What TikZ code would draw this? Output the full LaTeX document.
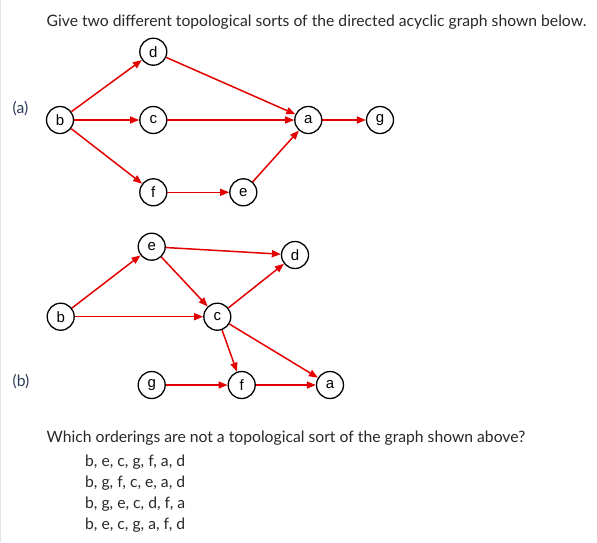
\documentclass[tikz,border=0pt]{standalone}
\usepackage{fontspec}
\setmainfont{Lato}
\newfontfamily\nodefont{Liberation Sans}
\usetikzlibrary{arrows.meta}
\definecolor{edgered}{RGB}{228,0,0}
\definecolor{txt}{RGB}{40,40,40}
\definecolor{lbl}{RGB}{45,60,90}
\tikzset{
  vtx/.style={circle,draw=black,line width=1.3pt,fill=white,minimum size=27pt,inner sep=0pt,font=\nodefont\fontsize{15}{15}\selectfont},
  edge/.style={draw=edgered,line width=1.5pt,-{Triangle[length=9pt,width=7pt]}},
  txtnode/.style={anchor=base west,inner sep=0pt,text=txt,font=\fontsize{15.7}{17}\selectfont},
  plabel/.style={anchor=base west,inner sep=0pt,text=lbl,font=\fontsize{15.7}{17}\selectfont}
}
\begin{document}
\begin{tikzpicture}[x=1pt,y=-1pt]
\useasboundingbox (0,0) rectangle (597,542);
\fill[white] (0,0) rectangle (597,542);
\draw[color=black!10,line width=1pt] (0.5,0) -- (0.5,542);
% title
\node[txtnode] (title) at (46.5,26) {Give two different topological sorts of the directed acyclic graph shown below.};
% (a)
\node[plabel] (la) at (12.5,113.3) {(a)};
\node[vtx] (ab) at (60,120) {b};
\node[vtx] (ad) at (153.3,51.7) {d};
\node[vtx] (ac) at (153.3,120) {c};
\node[vtx] (af) at (153.3,192.3) {f};
\node[vtx] (ae) at (243.3,192.3) {e};
\node[vtx] (aa) at (308.3,120) {a};
\node[vtx] (ag) at (380,120) {g};
\draw[edge] (ab) -- (ad);
\draw[edge] (ab) -- (ac);
\draw[edge] (ab) -- (af);
\draw[edge] (ad) -- (aa);
\draw[edge] (ac) -- (aa);
\draw[edge] (af) -- (ae);
\draw[edge] (ae) -- (aa);
\draw[edge] (aa) -- (ag);
% (b)
\node[plabel] (lb) at (12.5,386.7) {(b)};
\node[vtx] (be) at (151.7,246.7) {e};
\node[vtx] (bd) at (295,255) {d};
\node[vtx] (bb) at (60.7,316.7) {b};
\node[vtx] (bc) at (217.3,316.7) {c};
\node[vtx] (bg) at (151.7,385) {g};
\node[vtx] (bf) at (241.7,385) {f};
\node[vtx] (ba) at (330,385) {a};
\draw[edge] (bb) -- (be);
\draw[edge] (bb) -- (bc);
\draw[edge] (be) -- (bd);
\draw[edge] (be) -- (bc);
\draw[edge] (bc) -- (bd);
\draw[edge] (bc) -- (bf);
\draw[edge] (bc) -- (ba);
\draw[edge] (bg) -- (bf);
\draw[edge] (bf) -- (ba);
% question
\node[txtnode] (q) at (46.5,442.7) {Which orderings are not a topological sort of the graph shown above?};
\node[txtnode] (o1) at (85,466.7) {b, e, c, g, f, a, d};
\node[txtnode] (o2) at (85,487.5) {b, g, f, c, e, a, d};
\node[txtnode] (o3) at (85,508.5) {b, g, e, c, d, f, a};
\node[txtnode] (o4) at (85,529.5) {b, e, c, g, a, f, d};
\end{tikzpicture}
\end{document}
